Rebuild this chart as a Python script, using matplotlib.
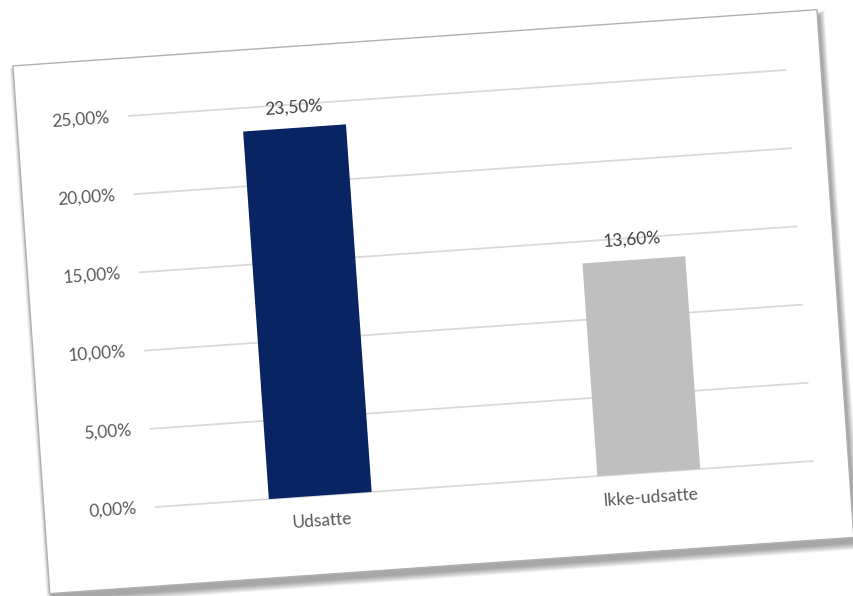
import matplotlib
matplotlib.use('Agg')
import matplotlib.pyplot as plt
from matplotlib.transforms import Affine2D
from matplotlib.patches import Rectangle

plt.rcParams['font.family'] = ['Lato', 'DejaVu Sans']

categories = ['Udsatte', 'Ikke-udsatte']
values = [23.5, 13.6]
bar_colors = ['#082462', '#bfbfbf']
yticks = [0, 5, 10, 15, 20, 25]
ytick_labels = ['0,00%', '5,00%', '10,00%', '15,00%', '20,00%', '25,00%']

W, H = 854, 596
text_color = '#595959'
grid_color = '#d9d9d9'

fig = plt.figure(figsize=(W / 100, H / 100), dpi=100)
fig.patch.set_facecolor('white')

# plot area in the un-tilted frame, pixels
px0, py0 = 156, 89
plot_w, plot_h = 658.6, 392
ax = fig.add_axes([px0 / W, py0 / H, plot_w / W, plot_h / H])
ax.set_xlim(-0.5, 1.5)
ax.set_ylim(0, 25)
ax.axis('off')
ax.patch.set_visible(False)

# the whole screenshot is tilted about 4 degrees
rot = Affine2D().rotate_deg_around(px0, py0, 4)
tilt = 4


def shifted(dx, dy):
    return ax.transData + Affine2D().translate(dx, dy) + rot


# card with soft shadow
cx, cy, cw, ch = 44, 10, 806, 529
for k in range(10):
    sh = Rectangle((cx + 2 - k * 0.6, cy - 6 - k * 0.7), cw + k * 1.2, ch + k * 1.2,
                   transform=rot, facecolor='black', edgecolor='none',
                   alpha=0.04, zorder=-3)
    fig.add_artist(sh)
card = Rectangle((cx, cy), cw, ch, transform=rot, facecolor='white',
                 edgecolor='#b0b0b0', lw=1.0, zorder=-2)
fig.add_artist(card)

# gridlines
for t in yticks:
    ax.plot([-0.5, 1.5], [t, t], color=grid_color, lw=1.3,
            transform=ax.transData + rot, clip_on=False, zorder=1)

# tick labels
for t, lab in zip(yticks, ytick_labels):
    ax.text(-0.5, t, lab, transform=shifted(-19, 0), ha='right', va='center',
            rotation=tilt, rotation_mode='anchor', fontsize=12.5, color=text_color)

# bars
xs = list(range(len(categories)))
ax.bar(xs, values, width=0.313, color=bar_colors, transform=ax.transData + rot,
       clip_on=False, zorder=2)

# data labels
for x, v in zip(xs, values):
    ax.text(x, v, f'{v:.2f}%'.replace('.', ','), transform=shifted(0, 20),
            ha='center', va='center', rotation=tilt, rotation_mode='anchor',
            fontsize=12.5, color='#404040')

# category labels
for x, c in zip(xs, categories):
    ax.text(x, 0, c, transform=shifted(0, -25), ha='center', va='center',
            rotation=tilt, rotation_mode='anchor', fontsize=12.5, color=text_color)

fig.savefig('out.png', dpi=100)
